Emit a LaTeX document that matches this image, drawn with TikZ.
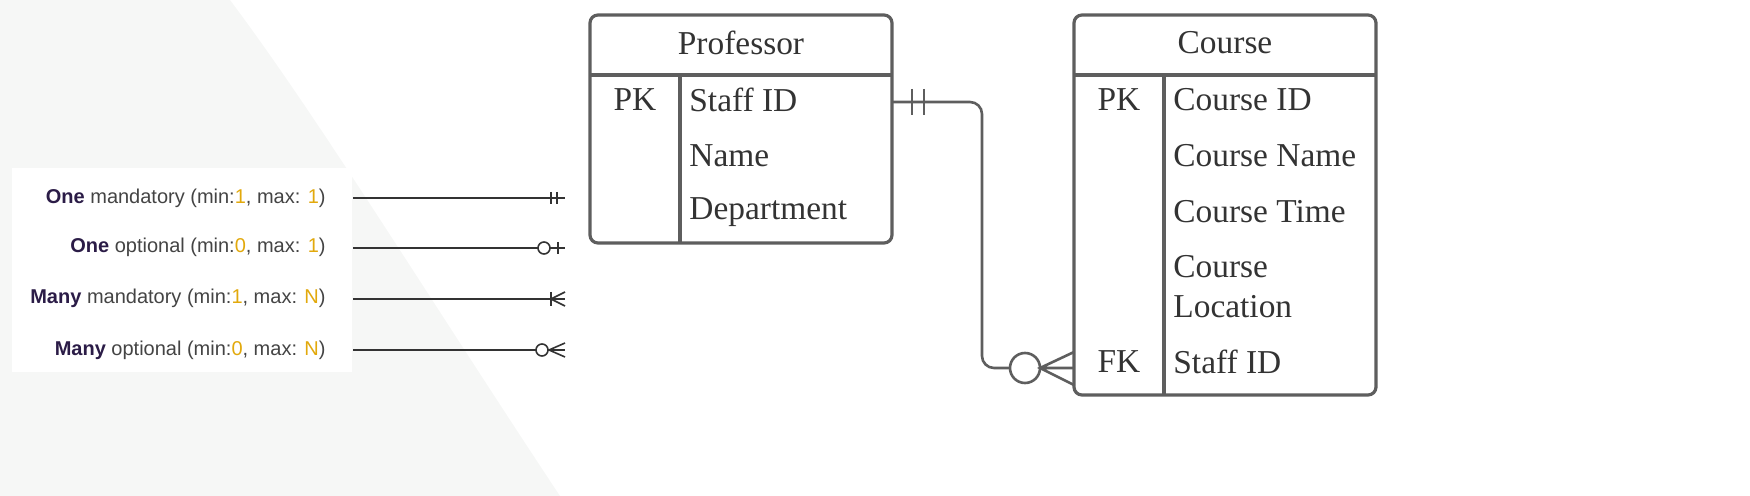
\documentclass[tikz,border=0pt]{standalone}
\usepackage{fontspec}
\setmainfont{Liberation Serif}
\newfontfamily\lsans{Liberation Sans}
\begin{document}
\begin{tikzpicture}[x=0.5pt,y=-0.5pt,
  ent/.style={draw=ergray,line width=1.6pt,rounded corners=4pt},
  sep/.style={draw=ergray,line width=1.6pt},
  cell/.style={font=\fontsize{16.7}{20}\selectfont,text=ertext,anchor=west,inner sep=0},
  hd/.style={font=\fontsize{16.7}{20}\selectfont,text=ertext,inner sep=0},
  lg/.style={font=\lsans\fontsize{10}{12}\selectfont,text=lgtext,anchor=east,inner sep=0},
  lgline/.style={draw=lgline,line width=0.8pt},
  rel/.style={draw=ergray,line width=1.3pt}]
\definecolor{ergray}{HTML}{5E5E5E}
\definecolor{ertext}{HTML}{333333}
\definecolor{lgtext}{HTML}{444444}
\definecolor{lgbold}{HTML}{2B1C47}
\definecolor{gold}{HTML}{E2A90C}
\definecolor{lgline}{HTML}{333333}
\definecolor{bgbrush}{HTML}{F6F7F6}
\useasboundingbox (0,0) rectangle (1750,496);
% faint background brush
\fill[bgbrush] (0,0) -- (230,0) .. controls (320,120) and (430,300) .. (560,496) -- (0,496) -- cycle;
% legend panel
\fill[white] (12,168) rectangle (352,372);
\newcommand{\gd}[1]{\textcolor{gold}{#1}}
\node[lg] (l1) at (326,198) {\textbf{\textcolor{lgbold}{One}} mandatory (min:\gd{1}, max: \gd{1})};
\node[lg] (l2) at (326,247) {\textbf{\textcolor{lgbold}{One}} optional (min:\gd{0}, max: \gd{1})};
\node[lg] (l3) at (326,298) {\textbf{\textcolor{lgbold}{Many}} mandatory (min:\gd{1}, max: \gd{N})};
\node[lg] (l4) at (326,350) {\textbf{\textcolor{lgbold}{Many}} optional (min:\gd{0}, max: \gd{N})};
% legend lines
\coordinate (a1) at (353,198); \coordinate (b1) at (565,198);
\draw[lgline] (a1) -- (b1);
\draw[lgline] (551,192) -- (551,204) (557,192) -- (557,204);
\coordinate (a2) at (353,248); \coordinate (b2) at (565,248);
\draw[lgline] (a2) -- (538,248) (550,248) -- (b2);
\draw[lgline] (544,248) circle[radius=6];
\draw[lgline] (558,242) -- (558,254);
\coordinate (a3) at (353,299); \coordinate (b3) at (565,299);
\draw[lgline] (a3) -- (b3);
\draw[lgline] (551,292) -- (551,306);
\draw[lgline] (565,292) -- (551,299) -- (565,306);
\coordinate (a4) at (353,350); \coordinate (b4) at (565,350);
\draw[lgline] (a4) -- (536,350) (548,350) -- (b4);
\draw[lgline] (542,350) circle[radius=6];
\draw[lgline] (565,343) -- (549,350) -- (565,357);
% Professor
\draw[ent] (590,15) rectangle (892,243);
\draw[sep] (590,75) -- (892,75);
\draw[sep] (680,75) -- (680,243);
\node[hd] (ph) at (741,43) {Professor};
\node[hd] (ppk) at (635,100) {PK};
\node[cell] (p1) at (689,100) {Staff ID};
\node[cell] (p2) at (689,156) {Name};
\node[cell] (p3) at (689,212) {Department};
% Course
\draw[ent] (1074,15) rectangle (1376,395);
\draw[sep] (1074,75) -- (1376,75);
\draw[sep] (1164,75) -- (1164,395);
\node[hd] (ch) at (1225,43) {Course};
\node[hd] (cpk) at (1119,100) {PK};
\node[cell] (c1) at (1173,100) {Course ID};
\node[cell] (c2) at (1173,156) {Course Name};
\node[cell] (c3) at (1173,212) {Course Time};
\node[cell,align=left,font=\fontsize{16.7}{20}\selectfont] (c4) at (1173,287) {Course\\Location};
\node[hd] (cfk) at (1119,362) {FK};
\node[cell] (c5) at (1173,362) {Staff ID};
% relationship
\coordinate (r1) at (892,102);
\coordinate (r2) at (1010,368);
\draw[rel,rounded corners=6pt] (r1) -- (982,102) -- (982,368) -- (r2);
\draw[rel] (912,89) -- (912,115) (924,89) -- (924,115);
\draw[rel] (1025,368) circle[radius=15];
\draw[rel] (1074,352) -- (1040,368) -- (1074,385) (1040,368) -- (1074,368);
\end{tikzpicture}
\end{document}
